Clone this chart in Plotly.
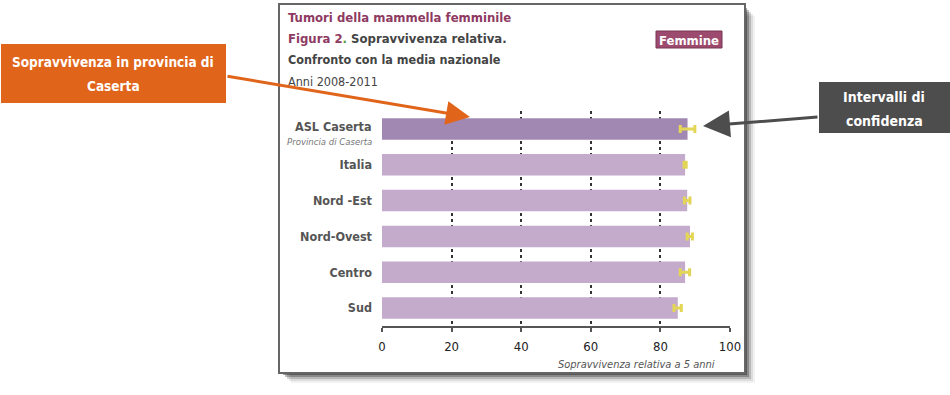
import plotly.graph_objects as go

categories = ["ASL Caserta", "Italia", "Nord -Est", "Nord-Ovest", "Centro", "Sud"]
values = [87.8, 87.1, 87.7, 88.5, 87.1, 85.0]
err_plus = [2.1, 0.3, 0.8, 0.7, 1.3, 1.0]
err_minus = [2.1, 0.3, 0.8, 0.8, 1.4, 1.1]
x_ticks = [0, 20, 40, 60, 80, 100]

W, H = 950, 395
L, R, T, B = 382, 730, 111, 326  # plot area in pixels

def px(x):
    return (x - L) / (R - L)

def py(y):
    return (B - y) / (B - T)

FONT = "DejaVu Sans Condensed, DejaVu Sans, sans-serif"
bar_colors = ["#a088b2"] + ["#c4abcb"] * (len(categories) - 1)

fig = go.Figure()
fig.add_trace(go.Bar(
    x=values, y=categories, orientation="h",
    marker=dict(color=bar_colors, line=dict(width=0)),
    width=0.6,
    error_x=dict(type="data", array=err_plus, arrayminus=err_minus,
                 color="#e3d656", thickness=3, width=4),
    hoverinfo="skip",
))

ticktext = ["" if c == "ASL Caserta" else "<b>%s</b>" % c for c in categories]

fig.update_layout(
    width=W, height=H,
    margin=dict(l=L, r=W - R, t=T, b=H - B, pad=0),
    paper_bgcolor="white", plot_bgcolor="white",
    showlegend=False,
    font=dict(family=FONT, color="#444"),
    xaxis=dict(range=[0, 100], tickvals=x_ticks, ticktext=[str(v) for v in x_ticks],
               showgrid=True, gridcolor="#333", griddash="dot", gridwidth=1.5,
               zeroline=False, showline=True, linecolor="#555", linewidth=2,
               ticks="outside", ticklen=4, tickwidth=2, tickcolor="#555",
               tickfont=dict(size=13, color="#222", family=FONT),
               ticklabelstandoff=3),
    yaxis=dict(categoryorder="array", categoryarray=categories, autorange="reversed",
               tickvals=categories, ticktext=ticktext,
               tickfont=dict(size=12.5, color="#555", family=FONT),
               showgrid=False, zeroline=False, showline=False, ticks="",
               ticklabelstandoff=9),
)

shapes = []
# shadow of frame
for i, op in enumerate([0.35, 0.25, 0.16, 0.09, 0.05]):
    d = i * 2
    shapes.append(dict(type="rect", xref="paper", yref="paper",
                       x0=px(283 + d), x1=px(747 + d), y0=py(375 + d), y1=py(8 + d),
                       line=dict(width=0), fillcolor="rgba(0,0,0,%s)" % op, layer="below"))
# frame
shapes.append(dict(type="rect", xref="paper", yref="paper",
                   x0=px(279), x1=px(745), y0=py(373), y1=py(4),
                   line=dict(color="#666", width=2), fillcolor="white", layer="below"))
# Femmine badge
shapes.append(dict(type="rect", xref="paper", yref="paper",
                   x0=px(656), x1=px(722), y0=py(48), y1=py(31),
                   line=dict(color="#7a3454", width=1), fillcolor="#9c4a6e"))
# orange callout box
shapes.append(dict(type="rect", xref="paper", yref="paper",
                   x0=px(1), x1=px(226), y0=py(103), y1=py(44),
                   line=dict(width=0), fillcolor="#e0651b"))
# dark callout box
shapes.append(dict(type="rect", xref="paper", yref="paper",
                   x0=px(819), x1=px(950), y0=py(133), y1=py(82),
                   line=dict(width=0), fillcolor="#4d4d4d"))
fig.update_layout(shapes=shapes)

ann = []
def text(x, y, s, size, color, xanchor="left", bold=False, italic=False):
    if bold:
        s = "<b>%s</b>" % s
    if italic:
        s = "<i>%s</i>" % s
    ann.append(dict(xref="paper", yref="paper", x=px(x), y=py(y), text=s,
                    showarrow=False, xanchor=xanchor, yanchor="middle",
                    font=dict(size=size, color=color, family=FONT)))

text(286, 17, "Tumori della mammella femminile", 13, "#8e3a62", bold=True)
text(286, 39, "<span style='color:#8e3a62'>Figura 2</span><span style='color:#5a9a3a'>.</span> Sopravvivenza relativa.", 13, "#444", bold=True)
text(286, 60, "Confronto con la media nazionale", 12.5, "#444", bold=True)
text(286, 81, "Anni 2008-2011", 12.5, "#444")
text(689, 40, "Femmine", 13, "white", xanchor="center", bold=True)
text(374, 126, categories[0], 12.5, "#555", xanchor="right", bold=True)
text(374, 141, "Provincia di Caserta", 9.5, "#777", xanchor="right", italic=True)
text(717, 364, "Sopravvivenza relativa a 5 anni", 11, "#555", xanchor="right", italic=True)
text(113, 62, "Sopravvivenza in provincia di", 13.5, "white", xanchor="center", bold=True)
text(113, 86, "Caserta", 13.5, "white", xanchor="center", bold=True)
text(884, 97, "Intervalli di", 14, "white", xanchor="center", bold=True)
text(884, 121, "confidenza", 14, "white", xanchor="center", bold=True)

# arrows (tip in paper coords, tail as pixel offset)
ann.append(dict(xref="paper", yref="paper", x=px(470), y=py(117),
                ax=226 - 470, ay=76 - 117, axref="pixel", ayref="pixel",
                text="", showarrow=True, arrowhead=2, arrowsize=1.6,
                arrowwidth=3, arrowcolor="#e0651b"))
ann.append(dict(xref="paper", yref="paper", x=px(703), y=py(126),
                ax=819 - 703, ay=117 - 126, axref="pixel", ayref="pixel",
                text="", showarrow=True, arrowhead=2, arrowsize=1.8,
                arrowwidth=3, arrowcolor="#4d4d4d"))
fig.update_layout(annotations=ann)

fig.write_html("out.html", config={"displayModeBar": False},
               post_script="document.body.style.margin='0';")
